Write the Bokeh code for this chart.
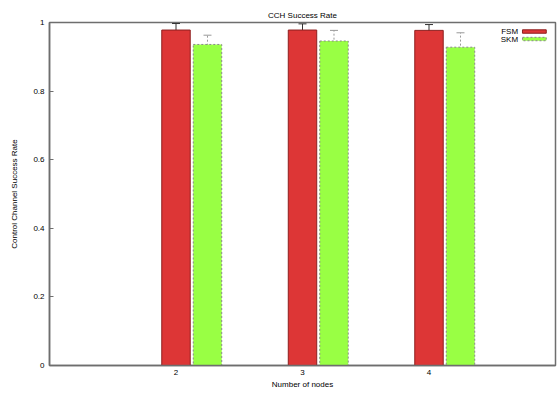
from bokeh.plotting import figure
from bokeh.models import ColumnDataSource, Whisker, TeeHead, FixedTicker, NumeralTickFormatter, Range1d
from bokeh.core.properties import value
from bokeh.embed import file_html
from bokeh.resources import INLINE

# ---- data ----
nodes = [2, 3, 4]
fsm = [0.978, 0.978, 0.977]
fsm_err = [0.019, 0.018, 0.017]
skm = [0.936, 0.946, 0.928]
skm_err = [0.027, 0.031, 0.042]
series_names = ["FSM", "SKM"]
y_ticks = [0, 0.2, 0.4, 0.6, 0.8, 1]
x_tick_labels = ["2", "3", "4"]
title_text = "CCH Success Rate"
x_label = "Number of nodes"
y_label = "Control Channel Success Rate"

# ---- style ----
FONT = "Liberation Sans"
RED = "#dd3636"
RED_EDGE = "#8e1f1f"
GREEN = "#99ff44"
GREEN_EDGE = "#888888"
AXIS = "#6e6e6e"
BAR_W = 0.225
OFFSET = 0.249

p = figure(width=557, height=393, output_backend="svg", toolbar_location=None,
           x_range=Range1d(1, 5), y_range=Range1d(0, 1),
           min_border_left=49, min_border_right=2, min_border_top=22, min_border_bottom=28,
           title=title_text)
p.title.align = "center"
p.title.text_font = FONT
p.title.text_font_size = "8px"
p.title.text_font_style = "normal"
p.title.text_color = "#000000"
p.title.standoff = 6

p.xgrid.visible = False
p.ygrid.visible = False
p.outline_line_color = AXIS
p.outline_line_width = 1.5
p.background_fill_color = "white"
p.border_fill_color = "white"

# bars
p.vbar(x=nodes, top=fsm, width=BAR_W, fill_color=RED, line_color=RED_EDGE, line_width=1)
skm_x = [n + OFFSET for n in nodes]
p.vbar(x=skm_x, top=skm, width=BAR_W, fill_color=GREEN, line_color=GREEN_EDGE,
       line_width=1, line_dash="2 2")

# error bars
src_f = ColumnDataSource(dict(x=nodes, lower=[v - e for v, e in zip(fsm, fsm_err)],
                              upper=[v + e for v, e in zip(fsm, fsm_err)]))
src_s = ColumnDataSource(dict(x=skm_x, lower=[v - e for v, e in zip(skm, skm_err)],
                              upper=[v + e for v, e in zip(skm, skm_err)]))
p.add_layout(Whisker(source=src_f, base="x", lower="lower", upper="upper",
                     line_color="#333333", line_width=1,
                     upper_head=TeeHead(size=8, line_color="#333333", line_width=1),
                     lower_head=TeeHead(size=8, line_color="#333333", line_width=1)))
p.add_layout(Whisker(source=src_s, base="x", lower="lower", upper="upper",
                     line_color="#999999", line_width=1, line_dash="2 2",
                     upper_head=TeeHead(size=8, line_color="#999999", line_width=1),
                     lower_head=TeeHead(size=8, line_color="#999999", line_width=1)))

# manual legend (text left, swatch right, as in the original)
leg_text_x = [4.704, 4.704]
leg_y = [0.9737, 0.9518]
p.text(x=leg_text_x, y=leg_y, text=series_names, text_align="right", text_baseline="middle",
       text_font=value(FONT), text_font_size="8px", text_color="#000000")
p.quad(left=[4.739], right=[4.927], bottom=[leg_y[0] - 0.005], top=[leg_y[0] + 0.005],
       fill_color=RED, line_color=RED_EDGE, line_width=1)
p.quad(left=[4.739], right=[4.927], bottom=[leg_y[1] - 0.005], top=[leg_y[1] + 0.005],
       fill_color=GREEN, line_color=GREEN_EDGE, line_width=1, line_dash="2 2")

# axes
xa = p.xaxis[0]
xa.ticker = FixedTicker(ticks=nodes)
xa.major_label_overrides = {n: s for n, s in zip(nodes, x_tick_labels)}
xa.major_tick_in = 0
xa.major_tick_out = 0
xa.minor_tick_in = 0
xa.minor_tick_out = 0
xa.major_label_standoff = 4
xa.axis_label = x_label
xa.axis_label_standoff = 2
xa.axis_label_text_font_style = "normal"

ya = p.yaxis[0]
ya.ticker = FixedTicker(ticks=y_ticks)
ya.formatter = NumeralTickFormatter(format="0.[0]")
ya.major_tick_in = 4
ya.major_tick_out = 0
ya.minor_tick_in = 0
ya.minor_tick_out = 0
ya.major_label_standoff = 5
ya.axis_label = y_label
ya.axis_label_standoff = 11
ya.axis_label_text_font_style = "normal"

for ax in (xa, ya):
    ax.axis_line_color = AXIS
    ax.axis_line_width = 1.5
    ax.major_tick_line_color = AXIS
    ax.major_label_text_font = FONT
    ax.major_label_text_font_size = "8px"
    ax.major_label_text_color = "#000000"
    ax.axis_label_text_font = FONT
    ax.axis_label_text_font_size = "8px"
    ax.axis_label_text_color = "#000000"

open("out.html", "w").write(file_html(p, INLINE))
